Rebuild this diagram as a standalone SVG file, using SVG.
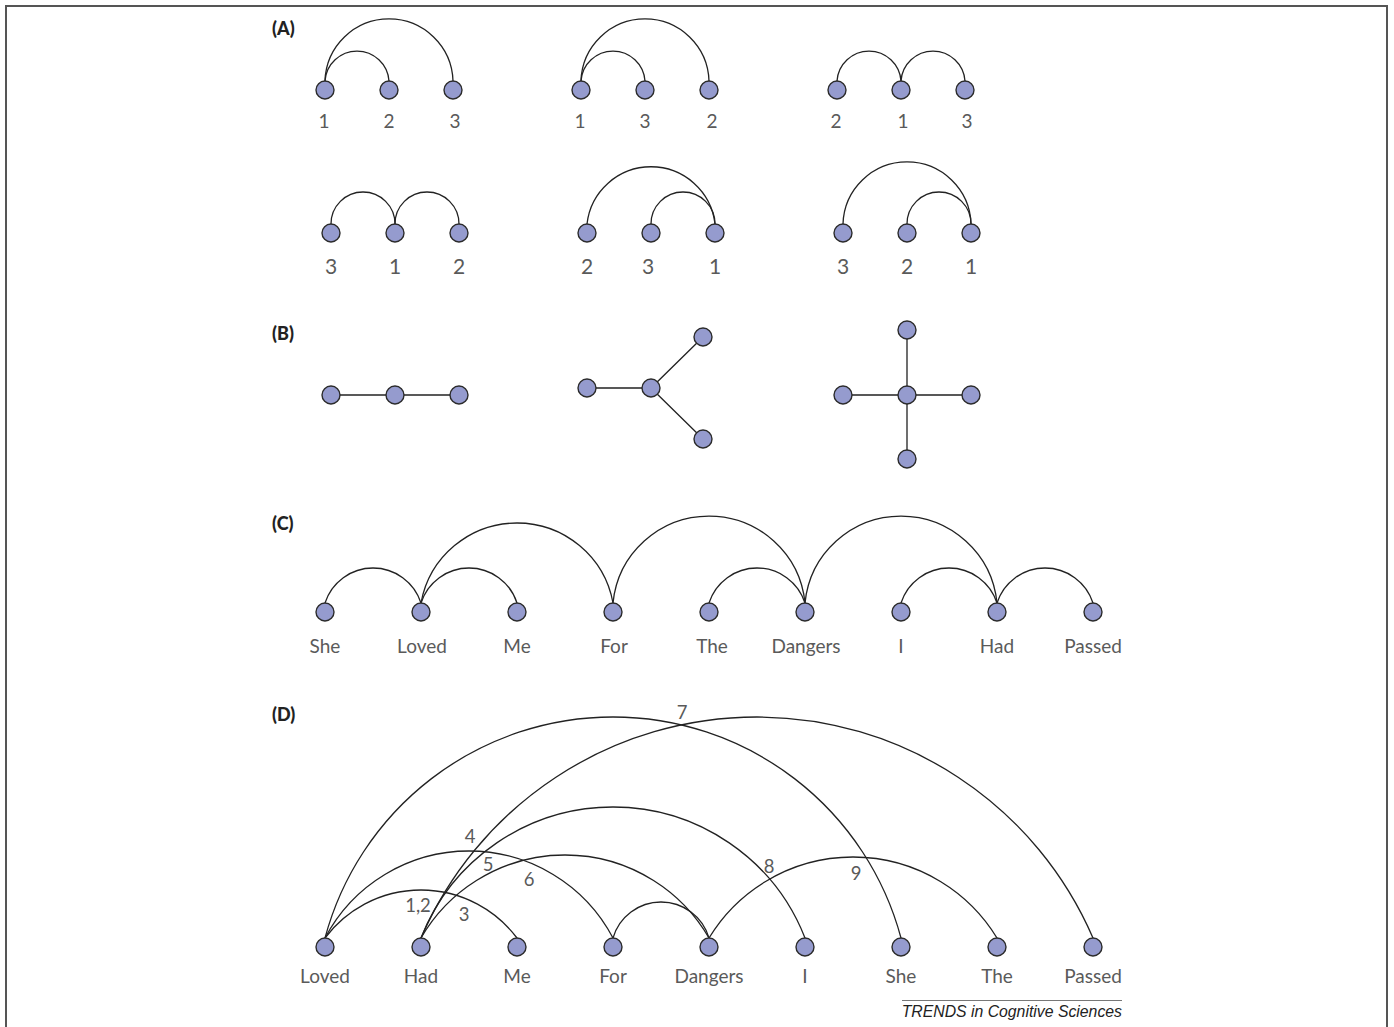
<svg xmlns="http://www.w3.org/2000/svg" width="1394" height="1027" viewBox="0 0 1394 1027">
<style>
.n{fill:#959bce;stroke:#2b2b2b;stroke-width:1.4}
.c{fill:none;stroke:#222;stroke-width:1.3}
.l{font-family:Lato,"Open Sans",sans-serif;fill:#5a5a5a;text-anchor:middle}
.s{font-size:19px}
.m{font-size:21px}
.w{font-size:19px}
.p{font-family:Lato,"Open Sans",sans-serif;font-weight:900;font-size:18px;fill:#222}
.d{font-family:Lato,"Open Sans",sans-serif;fill:#5a5a5a;font-size:18.5px;text-anchor:middle}
</style>
<rect x="6" y="6" width="1381" height="1040" fill="#fff" stroke="#555" stroke-width="2"/>
<g id="panel-labels">
<text class="p" x="272" y="35">(A)</text>
<text class="p" x="272" y="340">(B)</text>
<text class="p" x="272" y="530">(C)</text>
<text class="p" x="272" y="721">(D)</text>
</g>
<g id="connectors">
<!-- A row 1 -->
<path class="c" d="M325 81 A32.07 32.07 0 0 1 389 81"/>
<path class="c" d="M325 81 A64.03 64.03 0 0 1 453 81"/>
<path class="c" d="M581 81 A32.07 32.07 0 0 1 645 81"/>
<path class="c" d="M581 81 A64.03 64.03 0 0 1 709 81"/>
<path class="c" d="M837 81 A32.07 32.07 0 0 1 901 81"/>
<path class="c" d="M901 81 A32.07 32.07 0 0 1 965 81"/>
<!-- A row 2 -->
<path class="c" d="M331 224 A32 32 0 0 1 395 224"/>
<path class="c" d="M395 224 A32 32 0 0 1 459 224"/>
<path class="c" d="M651 224 A32 32 0 0 1 715 224"/>
<path class="c" d="M587 224 A64.4 64.4 0 0 1 715 224"/>
<path class="c" d="M907 224 A32 32 0 0 1 971 224"/>
<path class="c" d="M843 224 A64.03 64.03 0 0 1 971 224"/>
<!-- B -->
<path class="c" d="M331 395 H459"/>
<path class="c" d="M587 388 H651 L703 337 M651 388 L703 439"/>
<path class="c" d="M843 395 H971 M907 330 V459"/>
<!-- C -->
<path class="c" d="M325 603 A50.41 50.41 0 0 1 421 603"/>
<path class="c" d="M421 603 A50.41 50.41 0 0 1 517 603"/>
<path class="c" d="M421 603 A97.6 97.6 0 0 1 613 603"/>
<path class="c" d="M613 603 A96.47 96.47 0 0 1 805 603"/>
<path class="c" d="M709 603 A50.41 50.41 0 0 1 805 603"/>
<path class="c" d="M805 603 A96.47 96.47 0 0 1 997 603"/>
<path class="c" d="M901 603 A50.41 50.41 0 0 1 997 603"/>
<path class="c" d="M997 603 A50.41 50.41 0 0 1 1093 603"/>
<!-- D -->
<path class="c" d="M325 938 A120 120 0 0 1 517 938"/>
<path class="c" d="M325 938 A162.67 162.67 0 0 1 613 938"/>
<path class="c" d="M325 938 A298.16 298.16 0 0 1 901 938"/>
<path class="c" d="M421 938 A166.42 166.42 0 0 1 709 938"/>
<path class="c" d="M421 938 A206.2 206.2 0 0 1 805 938"/>
<path class="c" d="M421 938 A365.92 365.92 0 0 1 1093 938"/>
<path class="c" d="M613 938 A50 50 0 0 1 709 938"/>
<path class="c" d="M709 938 A168.5 168.5 0 0 1 997 938"/>
</g>
<g id="d-order-labels">
<text class="d" x="682" y="719">7</text>
<text class="d" x="470" y="843">4</text>
<text class="d" x="488" y="871">5</text>
<text class="d" x="529" y="886">6</text>
<text class="d" x="418" y="912">1,2</text>
<text class="d" x="464" y="921">3</text>
<text class="d" x="769" y="873">8</text>
<text class="d" x="856" y="880">9</text>
</g>
<!-- A row 1 nodes -->
<g id="a1-1"><circle class="n" cx="325" cy="90" r="9"/><text class="l s" x="324" y="128">1</text></g>
<g id="a1-2"><circle class="n" cx="389" cy="90" r="9"/><text class="l s" x="389" y="128">2</text></g>
<g id="a1-3"><circle class="n" cx="453" cy="90" r="9"/><text class="l s" x="455" y="128">3</text></g>
<g id="a2-1"><circle class="n" cx="581" cy="90" r="9"/><text class="l s" x="580" y="128">1</text></g>
<g id="a2-3"><circle class="n" cx="645" cy="90" r="9"/><text class="l s" x="645" y="128">3</text></g>
<g id="a2-2"><circle class="n" cx="709" cy="90" r="9"/><text class="l s" x="712" y="128">2</text></g>
<g id="a3-2"><circle class="n" cx="837" cy="90" r="9"/><text class="l s" x="836" y="128">2</text></g>
<g id="a3-1"><circle class="n" cx="901" cy="90" r="9"/><text class="l s" x="903" y="128">1</text></g>
<g id="a3-3"><circle class="n" cx="965" cy="90" r="9"/><text class="l s" x="967" y="128">3</text></g>
<!-- A row 2 nodes -->
<g id="a4-3"><circle class="n" cx="331" cy="233" r="9"/><text class="l m" x="331" y="274">3</text></g>
<g id="a4-1"><circle class="n" cx="395" cy="233" r="9"/><text class="l m" x="395" y="274">1</text></g>
<g id="a4-2"><circle class="n" cx="459" cy="233" r="9"/><text class="l m" x="459" y="274">2</text></g>
<g id="a5-2"><circle class="n" cx="587" cy="233" r="9"/><text class="l m" x="587" y="274">2</text></g>
<g id="a5-3"><circle class="n" cx="651" cy="233" r="9"/><text class="l m" x="648" y="274">3</text></g>
<g id="a5-1"><circle class="n" cx="715" cy="233" r="9"/><text class="l m" x="715" y="274">1</text></g>
<g id="a6-3"><circle class="n" cx="843" cy="233" r="9"/><text class="l m" x="843" y="274">3</text></g>
<g id="a6-2"><circle class="n" cx="907" cy="233" r="9"/><text class="l m" x="907" y="274">2</text></g>
<g id="a6-1"><circle class="n" cx="971" cy="233" r="9"/><text class="l m" x="971" y="274">1</text></g>
<!-- B nodes -->
<g id="b1-1"><circle class="n" cx="331" cy="395" r="9"/></g>
<g id="b1-2"><circle class="n" cx="395" cy="395" r="9"/></g>
<g id="b1-3"><circle class="n" cx="459" cy="395" r="9"/></g>
<g id="b2-l"><circle class="n" cx="587" cy="388" r="9"/></g>
<g id="b2-c"><circle class="n" cx="651" cy="388" r="9"/></g>
<g id="b2-t"><circle class="n" cx="703" cy="337" r="9"/></g>
<g id="b2-b"><circle class="n" cx="703" cy="439" r="9"/></g>
<g id="b3-l"><circle class="n" cx="843" cy="395" r="9"/></g>
<g id="b3-c"><circle class="n" cx="907" cy="395" r="9"/></g>
<g id="b3-r"><circle class="n" cx="971" cy="395" r="9"/></g>
<g id="b3-t"><circle class="n" cx="907" cy="330" r="9"/></g>
<g id="b3-b"><circle class="n" cx="907" cy="459" r="9"/></g>
<!-- C nodes -->
<g id="c-she"><circle class="n" cx="325" cy="612" r="9"/><text class="l w" x="325" y="653">She</text></g>
<g id="c-loved"><circle class="n" cx="421" cy="612" r="9"/><text class="l w" x="422" y="653">Loved</text></g>
<g id="c-me"><circle class="n" cx="517" cy="612" r="9"/><text class="l w" x="517" y="653">Me</text></g>
<g id="c-for"><circle class="n" cx="613" cy="612" r="9"/><text class="l w" x="614" y="653">For</text></g>
<g id="c-the"><circle class="n" cx="709" cy="612" r="9"/><text class="l w" x="712" y="653">The</text></g>
<g id="c-dangers"><circle class="n" cx="805" cy="612" r="9"/><text class="l w" x="806" y="653">Dangers</text></g>
<g id="c-i"><circle class="n" cx="901" cy="612" r="9"/><text class="l w" x="901" y="653">I</text></g>
<g id="c-had"><circle class="n" cx="997" cy="612" r="9"/><text class="l w" x="997" y="653">Had</text></g>
<g id="c-passed"><circle class="n" cx="1093" cy="612" r="9"/><text class="l w" x="1093" y="653">Passed</text></g>
<!-- D nodes -->
<g id="d-loved"><circle class="n" cx="325" cy="947" r="9"/><text class="l w" x="325" y="983">Loved</text></g>
<g id="d-had"><circle class="n" cx="421" cy="947" r="9"/><text class="l w" x="421" y="983">Had</text></g>
<g id="d-me"><circle class="n" cx="517" cy="947" r="9"/><text class="l w" x="517" y="983">Me</text></g>
<g id="d-for"><circle class="n" cx="613" cy="947" r="9"/><text class="l w" x="613" y="983">For</text></g>
<g id="d-dangers"><circle class="n" cx="709" cy="947" r="9"/><text class="l w" x="709" y="983">Dangers</text></g>
<g id="d-i"><circle class="n" cx="805" cy="947" r="9"/><text class="l w" x="805" y="983">I</text></g>
<g id="d-she"><circle class="n" cx="901" cy="947" r="9"/><text class="l w" x="901" y="983">She</text></g>
<g id="d-the"><circle class="n" cx="997" cy="947" r="9"/><text class="l w" x="997" y="983">The</text></g>
<g id="d-passed"><circle class="n" cx="1093" cy="947" r="9"/><text class="l w" x="1093" y="983">Passed</text></g>
<g id="footer">
<line x1="902" y1="1000.5" x2="1122" y2="1000.5" stroke="#777" stroke-width="1"/>
<text x="1122" y="1017" text-anchor="end" font-family="'Liberation Sans',Arial,sans-serif" font-style="italic" font-size="15.8" fill="#222">TRENDS in Cognitive Sciences</text>
</g>
</svg>
